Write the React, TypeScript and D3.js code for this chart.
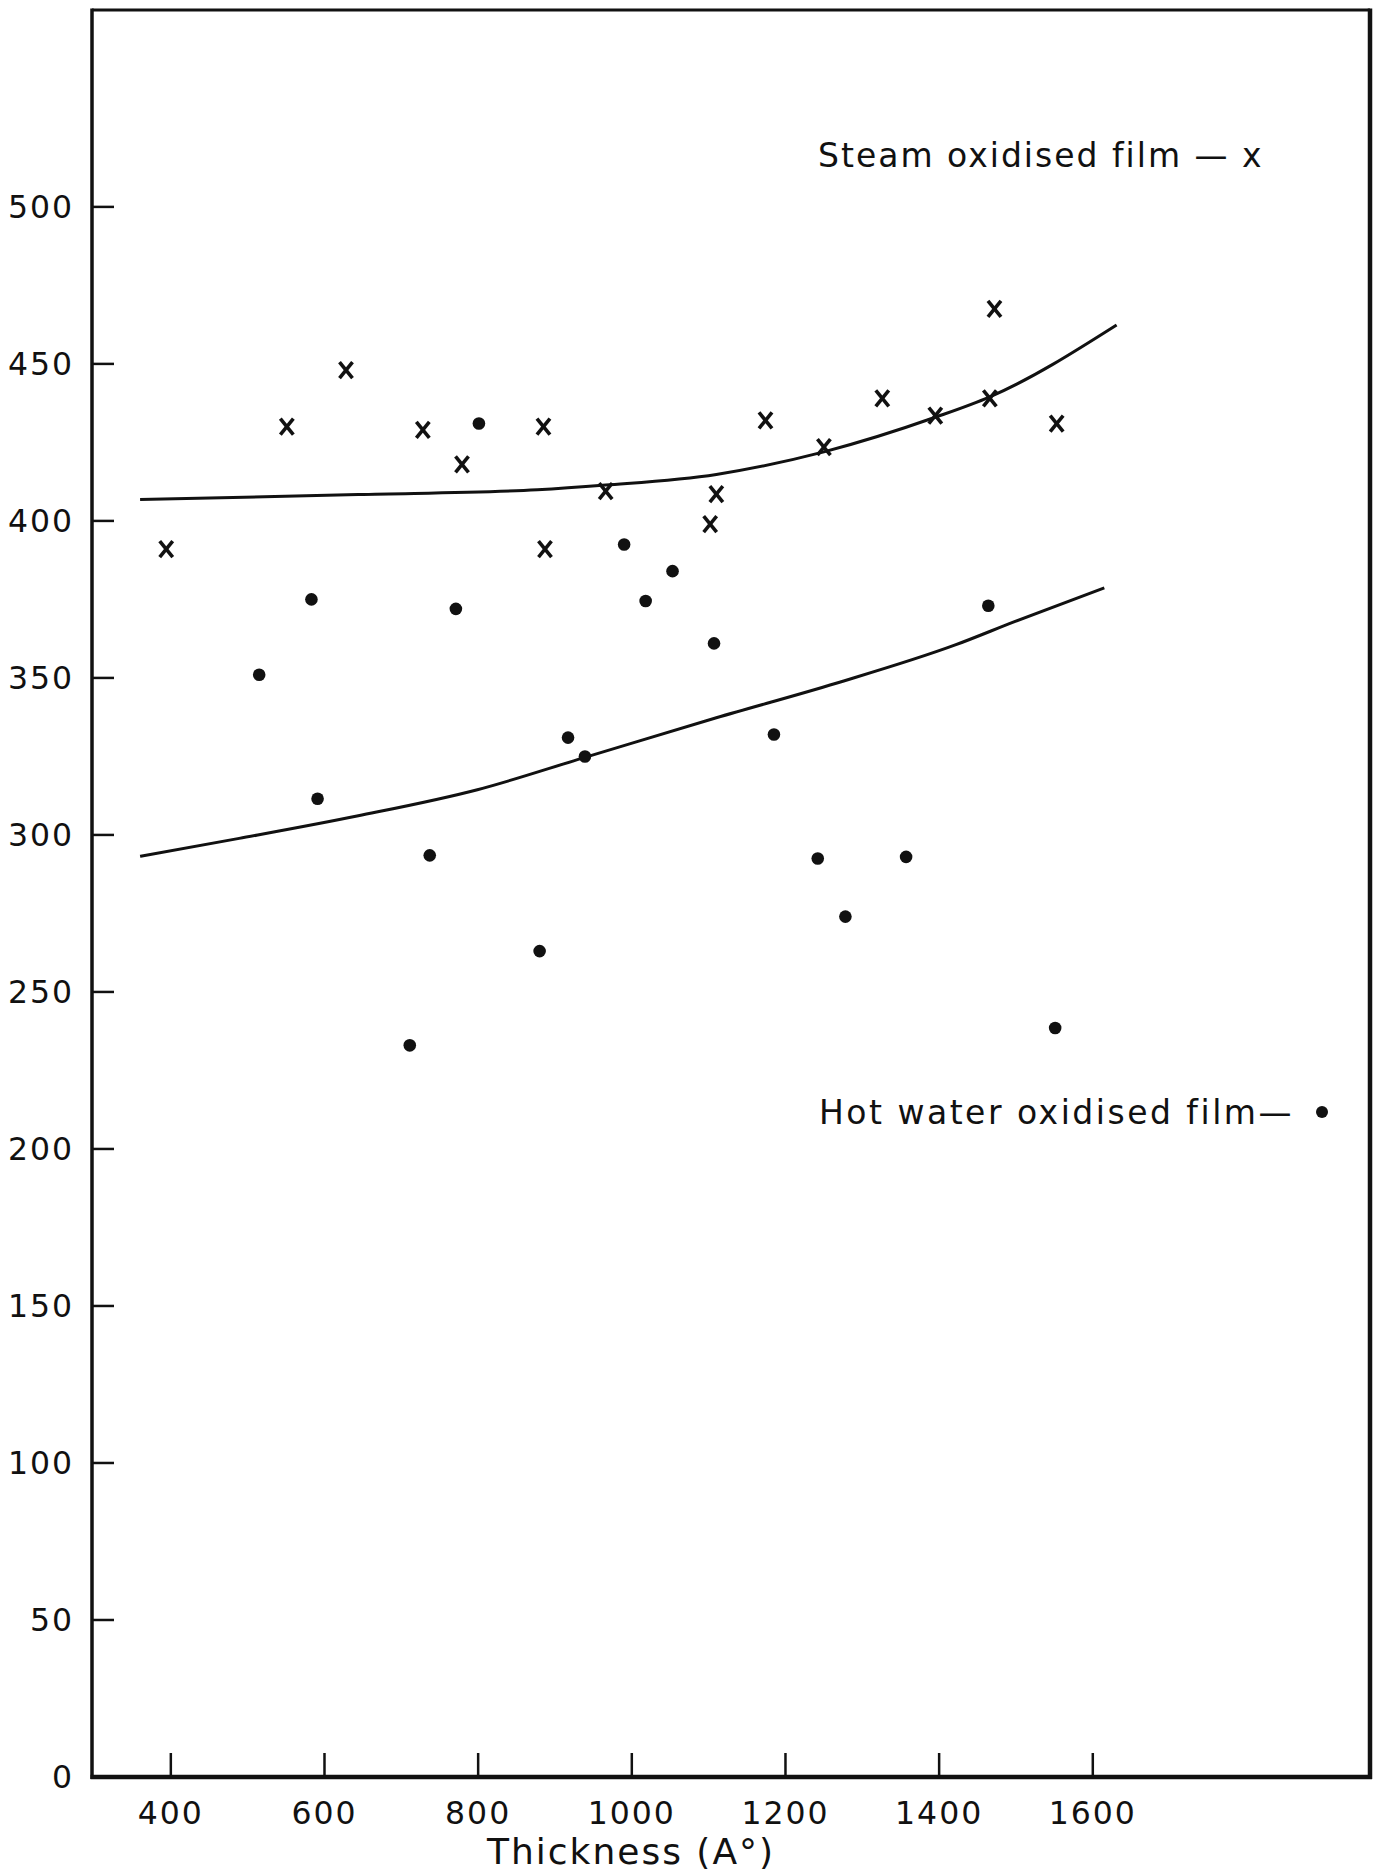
import React from "react";
import * as d3 from "d3";

// ---- data ----
const steamX = [394, 551, 628, 728, 779, 885, 887, 966, 1102, 1110, 1174, 1250, 1326, 1395, 1466, 1472, 1553];
const steamY = [391, 430, 448, 429, 418, 430, 391, 409.5, 399, 408.5, 432, 423.5, 439, 433.5, 439, 467.5, 431];

const hotX = [515, 583, 591, 711, 737, 771, 801, 880, 917, 939, 990, 1018, 1053, 1107, 1185, 1242, 1278, 1357, 1464, 1551];
const hotY = [351, 375, 311.5, 233, 293.5, 372, 431, 263, 331, 325, 392.5, 374.5, 384, 361, 332, 292.5, 274, 293, 373, 238.5];

const steamCurveX = [360, 644, 877, 966, 1110, 1250, 1395, 1466, 1631];
const steamCurveY = [406.8, 408.4, 409.9, 411.4, 414.8, 422, 433, 439.5, 462.4];

const hotCurveX = [360, 489, 644, 799, 939, 1110, 1266, 1421, 1499, 1615];
const hotCurveY = [293.2, 298.9, 306.1, 314.4, 324.7, 337.3, 348.3, 360.5, 368, 378.7];

const xTicks = [400, 600, 800, 1000, 1200, 1400, 1600];
const yTicks = [0, 50, 100, 150, 200, 250, 300, 350, 400, 450, 500];

const xLabel = "Thickness (A°)";
const steamLabel = "Steam oxidised film — x";
const hotLabel = "Hot water oxidised film—";

export default function App() {
  const W = 1383, H = 1873;
  const L = 92, T = 10, R = 1370, B = 1777;
  const x = d3.scaleLinear().domain([297.4, 1960.8]).range([L, R]);
  const y = d3.scaleLinear().domain([0, 562.7]).range([B, T]);

  const line = d3
    .line<[number, number]>()
    .x((d) => x(d[0]))
    .y((d) => y(d[1]))
    .curve(d3.curveMonotoneX);

  const steamPath = line(steamCurveX.map((v, i) => [v, steamCurveY[i]] as [number, number])) || "";
  const hotPath = line(hotCurveX.map((v, i) => [v, hotCurveY[i]] as [number, number])) || "";

  const font = "'DejaVu Sans', sans-serif";
  const fs = 31.5;
  const xw = 6.5, xh = 8;

  return (
    <svg
      width={W}
      height={H}
      style={{ position: "absolute", left: 0, top: 0, background: "#fff" }}
      fontFamily={font}
    >
      <rect x={0} y={0} width={W} height={H} fill="#fff" />
      {/* frame */}
      <line x1={L} y1={T} x2={R} y2={T} stroke="#111" strokeWidth={3} />
      <line x1={L} y1={T - 1.5} x2={L} y2={B + 2} stroke="#111" strokeWidth={3.5} />
      <line x1={R} y1={T - 1.5} x2={R} y2={B + 2} stroke="#111" strokeWidth={4.5} />
      <line x1={L - 1.5} y1={B} x2={R + 2} y2={B} stroke="#111" strokeWidth={4.5} />

      {/* y ticks */}
      {yTicks.map((t) => (
        <g key={"y" + t}>
          <line x1={L} x2={L + 22} y1={y(t)} y2={y(t)} stroke="#111" strokeWidth={2.5} />
          <text
            x={L - 18}
            y={y(t)}
            dy="0.36em"
            textAnchor="end"
            fontSize={fs}
            letterSpacing={2}
            fill="#111"
          >
            {t}
          </text>
        </g>
      ))}

      {/* x ticks */}
      {xTicks.map((t) => (
        <g key={"x" + t}>
          <line x1={x(t)} x2={x(t)} y1={B} y2={B - 24} stroke="#111" strokeWidth={2.5} />
          <text x={x(t)} y={B + 47} textAnchor="middle" fontSize={fs} letterSpacing={2} fill="#111">
            {t}
          </text>
        </g>
      ))}

      <text x={487} y={1864} fontSize={36} letterSpacing={2} fill="#111">
        {xLabel}
      </text>

      {/* curves */}
      <path d={steamPath} fill="none" stroke="#111" strokeWidth={3} />
      <path d={hotPath} fill="none" stroke="#111" strokeWidth={3} />

      {/* steam points */}
      {steamX.map((v, i) => (
        <g key={"s" + i} stroke="#111" strokeWidth={3.6}>
          <line x1={x(v) - xw} y1={y(steamY[i]) - xh} x2={x(v) + xw} y2={y(steamY[i]) + xh} />
          <line x1={x(v) - xw} y1={y(steamY[i]) + xh} x2={x(v) + xw} y2={y(steamY[i]) - xh} />
        </g>
      ))}

      {/* hot water points */}
      {hotX.map((v, i) => (
        <circle key={"h" + i} cx={x(v)} cy={y(hotY[i])} r={6.3} fill="#111" />
      ))}

      {/* legends */}
      <text x={818} y={167} fontSize={33} letterSpacing={2} fill="#111">
        {steamLabel}
      </text>
      <text x={819} y={1124} fontSize={33} letterSpacing={2.5} fill="#111">
        {hotLabel}
      </text>
      <circle cx={1322} cy={1112} r={6} fill="#111" />
    </svg>
  );
}
